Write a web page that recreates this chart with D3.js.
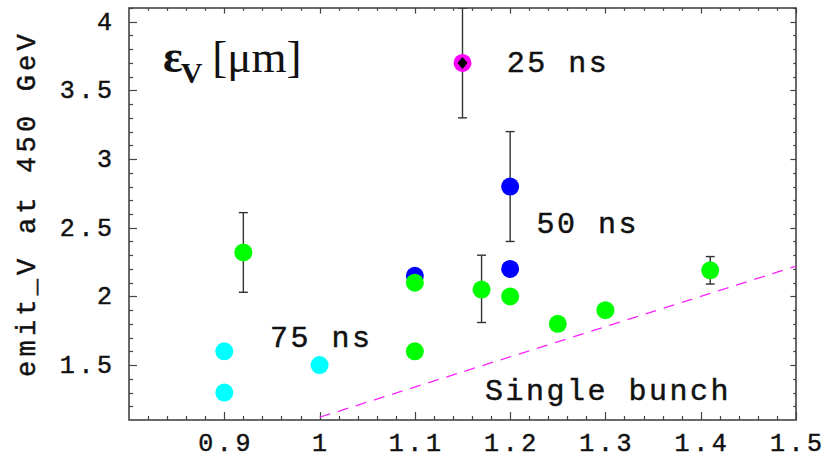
<!DOCTYPE html>
<html>
<head>
<meta charset="utf-8">
<script src="https://cdn.jsdelivr.net/npm/d3@7"></script>
<style>
  html, body { margin: 0; padding: 0; background: #fff; }
  svg { display: block; }
  .mono { font-family: "Courier New", "Liberation Mono", monospace; fill: #111; stroke: #111; stroke-width: 0.45; }
</style>
</head>
<body>
<svg id="chart" width="825" height="459"></svg>
<script>
// Bunch-spacing measurements: vertical emittance at 450 GeV vs. bunch intensity
const xTicks = [0.9, 1, 1.1, 1.2, 1.3, 1.4, 1.5];
const yTicks = [1.5, 2, 2.5, 3, 3.5, 4];

// 75 ns spacing (cyan)
const ns75X = [0.9, 0.9, 1.0];
const ns75Y = [1.6, 1.3, 1.5];

// 50 ns spacing (blue)
const ns50X = [1.1, 1.2, 1.2];
const ns50Y = [2.15, 2.8, 2.2];
const ns50Lo = [null, 2.4, null];
const ns50Hi = [null, 3.2, null];

// 50 ns spacing, later fills (green)
const greenX = [0.92, 1.1, 1.1, 1.17, 1.2, 1.25, 1.3, 1.41];
const greenY = [2.32, 2.1, 1.6, 2.05, 2.0, 1.8, 1.9, 2.19];
const greenLo = [2.03, null, null, 1.81, null, null, null, 2.09];
const greenHi = [2.61, null, null, 2.30, null, null, null, 2.29];

// 25 ns spacing (magenta)
const ns25X = [1.15];
const ns25Y = [3.7];
const ns25Lo = [3.3];
const ns25Hi = [4.1];

// Single-bunch reference line
const singleX = [1.0, 1.5];
const singleY = [1.12, 2.22];

const svg = d3.select("#chart");
const plot = { left: 129, right: 796, top: 8, bottom: 420 };

const x = d3.scaleLinear().domain([0.8, 1.5]).range([plot.left, plot.right]);
const y = d3.scaleLinear().domain([1.1, 4.1]).range([plot.bottom, plot.top]);

svg.append("defs").append("clipPath").attr("id", "plotClip")
  .append("rect")
  .attr("x", plot.left).attr("y", plot.top)
  .attr("width", plot.right - plot.left).attr("height", plot.bottom - plot.top);

const frameColor = "#444";

// Ticks on all four sides, pointing inward
const xMinor = d3.range(0.82, 1.5001, 0.02).map(v => +v.toFixed(2));
const yMinor = d3.range(1.2, 4.1001, 0.1).map(v => +v.toFixed(2));
const isMajorX = v => xTicks.some(t => Math.abs(t - v) < 1e-6);
const isMajorY = v => yTicks.some(t => Math.abs(t - v) < 1e-6);

const tickG = svg.append("g").attr("stroke", frameColor).attr("stroke-width", 1.2);
xMinor.forEach(v => {
  const len = isMajorX(v) ? 8 : 4;
  const px = Math.round(x(v)) + 0.5;
  tickG.append("line").attr("x1", px).attr("x2", px).attr("y1", plot.bottom).attr("y2", plot.bottom - len);
  tickG.append("line").attr("x1", px).attr("x2", px).attr("y1", plot.top).attr("y2", plot.top + len * 0.7);
});
yMinor.forEach(v => {
  const len = isMajorY(v) ? 8 : 4;
  const py = Math.round(y(v)) + 0.5;
  tickG.append("line").attr("y1", py).attr("y2", py).attr("x1", plot.left).attr("x2", plot.left + len);
  tickG.append("line").attr("y1", py).attr("y2", py).attr("x1", plot.right).attr("x2", plot.right - len * 0.7);
});

// Frame
svg.append("rect")
  .attr("x", plot.left).attr("y", plot.top)
  .attr("width", plot.right - plot.left).attr("height", plot.bottom - plot.top)
  .attr("fill", "none").attr("stroke", frameColor).attr("stroke-width", 1.6);

// Tick labels
const tickFont = 25, tickLS = 3.6;
const fmt = v => String(v);
svg.append("g").selectAll("text").data(xTicks).join("text")
  .attr("class", "mono")
  .attr("x", d => x(d) + tickLS / 2)
  .attr("y", 451)
  .attr("text-anchor", "middle")
  .attr("font-size", tickFont)
  .attr("letter-spacing", tickLS)
  .text(fmt);

svg.append("g").selectAll("text").data(yTicks).join("text")
  .attr("class", "mono")
  .attr("x", 112 + tickLS)
  .attr("y", d => y(d) + 8)
  .attr("text-anchor", "end")
  .attr("font-size", tickFont)
  .attr("letter-spacing", tickLS)
  .text(fmt);

// Y-axis title
svg.append("text")
  .attr("class", "mono")
  .attr("transform", "translate(35,203.5) rotate(-90)")
  .attr("text-anchor", "middle")
  .attr("font-size", 27)
  .attr("letter-spacing", 4.2)
  .text("emit_V at 450 GeV");

// Plot contents
const inner = svg.append("g").attr("clip-path", "url(#plotClip)");

// Single-bunch line
inner.append("line")
  .attr("x1", x(singleX[0])).attr("y1", y(singleY[0]))
  .attr("x2", x(singleX[1])).attr("y2", y(singleY[1]))
  .attr("stroke", "#ff22ff").attr("stroke-width", 1.3)
  .attr("stroke-dasharray", "11,8");

function errorBars(xs, los, his) {
  xs.forEach((xv, i) => {
    if (los[i] == null) return;
    const g = inner.append("g").attr("stroke", "#333").attr("stroke-width", 1.4);
    const px = x(xv);
    g.append("line").attr("x1", px).attr("x2", px).attr("y1", y(los[i])).attr("y2", y(his[i]));
    [los[i], his[i]].forEach(v => {
      g.append("line").attr("x1", px - 4.5).attr("x2", px + 4.5).attr("y1", y(v)).attr("y2", y(v));
    });
  });
}

function dots(xs, ys, color) {
  inner.append("g").selectAll("circle").data(xs.map((v, i) => [v, ys[i]])).join("circle")
    .attr("cx", d => x(d[0])).attr("cy", d => y(d[1]))
    .attr("r", 9).attr("fill", color);
}

errorBars(ns50X, ns50Lo, ns50Hi);
errorBars(greenX, greenLo, greenHi);
errorBars(ns25X, ns25Lo, ns25Hi);

dots(ns75X, ns75Y, "#00ffff");
dots(ns50X, ns50Y, "#0000ff");
dots(greenX, greenY, "#00ff00");
dots(ns25X, ns25Y, "#ff00ff");

// Black diamond centre of the 25 ns point
inner.append("g").selectAll("path").data(ns25X.map((v, i) => [v, ns25Y[i]])).join("path")
  .attr("transform", d => `translate(${x(d[0])},${y(d[1])})`)
  .attr("d", "M0,-6L5,0L0,6L-5,0Z")
  .attr("fill", "#000");

// Series annotations
const notes = [
  { text: "25 ns", x: 1.1965, y: 3.634 },
  { text: "50 ns", x: 1.2277, y: 2.459 },
  { text: "75 ns", x: 0.948, y: 1.634 },
  { text: "Single bunch", x: 1.1735, y: 1.246 }
];
svg.append("g").selectAll("text").data(notes).join("text")
  .attr("class", "mono")
  .attr("x", d => x(d.x)).attr("y", d => y(d.y))
  .attr("font-size", 30)
  .attr("letter-spacing", 2.5)
  .text(d => d.text);

// Quantity label
const lab = svg.append("text")
  .attr("x", x(0.8357)).attr("y", y(3.636))
  .attr("font-family", "'Times New Roman', 'Liberation Serif', serif")
  .attr("fill", "#111");
lab.append("tspan").attr("font-weight", "bold").attr("font-size", 46).text("ε");
lab.append("tspan").attr("font-weight", "bold").attr("font-size", 30).attr("dy", 11).attr("dx", -2).text("V");
lab.append("tspan").attr("font-size", 45).attr("dy", -11).attr("dx", 10).text("[μm]");
</script>
</body>
</html>
